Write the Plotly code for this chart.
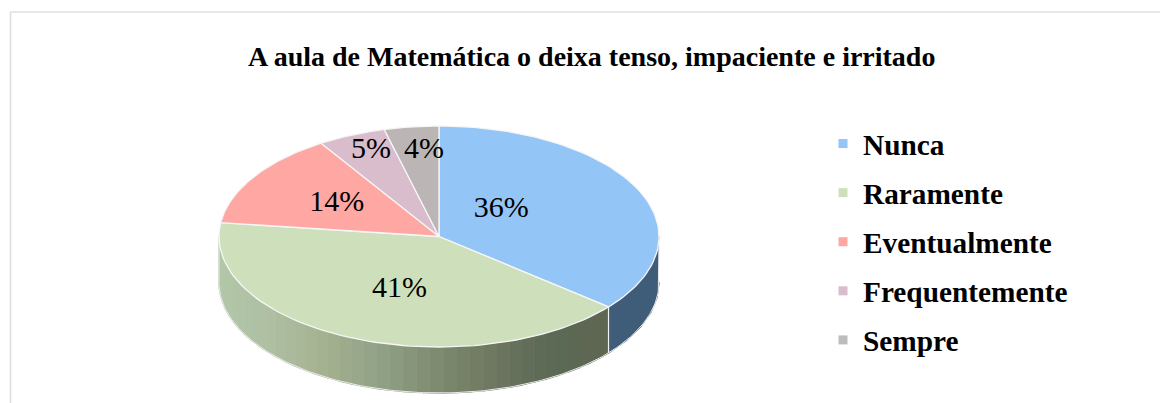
import numpy as np
import plotly.graph_objects as go

TITLE = "A aula de Matemática o deixa tenso, impaciente e irritado"
categories = ["Nunca", "Raramente", "Eventualmente", "Frequentemente", "Sempre"]
values = [36, 41, 14, 5, 4]
top_colors = ["#93C5F7", "#CEE0BB", "#FEA7A3", "#DABDCD", "#BBB6B5"]
legend_colors = ["#93C5F7", "#CEE0BB", "#FEA7A3", "#DABDCD", "#BDBDBD"]
label_x = [0.283, -0.180, -0.465, -0.309, -0.068]
label_y = [0.240, -0.484, 0.295, 0.774, 0.774]
wall_stop_x = [-1.0, -0.75, -0.5, -0.25, 0.0, 0.25, 0.5, 0.78]
wall_stop_rgb = [(179, 199, 169), (174, 191, 162), (164, 177, 143), (144, 160, 134),
                 (126, 139, 112), (110, 119, 96), (92, 106, 85), (96, 102, 82)]
blue_wall = "#3F5C78"
DEPTH = 0.416  # wall height in unit-ellipse terms
FONT = "Liberation Serif"

fractions = np.cumsum([0] + values) / sum(values)
angles = fractions * 2 * np.pi  # clockwise from 12 o'clock


def ex(t):
    return np.sin(t)


def ey(t):
    return np.cos(t)


def wall_color(xv):
    ch = [np.interp(xv, wall_stop_x, [c[i] for c in wall_stop_rgb]) for i in range(3)]
    return "rgb(%d,%d,%d)" % tuple(ch)


fig = go.Figure()


def wall_piece(a0, a1, color):
    t = np.linspace(a0, a1, 6)
    xs = np.concatenate([ex(t), ex(t[::-1])])
    ys = np.concatenate([ey(t), ey(t[::-1]) - DEPTH])
    fig.add_trace(go.Scatter(x=xs, y=ys, mode="lines", fill="toself", fillcolor=color,
                             line=dict(color=color, width=1.4), showlegend=False, hoverinfo="skip"))


# visible side wall: blue part, then green part cut into strips for the shading
wall_piece(np.pi / 2, angles[1], blue_wall)
edges = np.linspace(angles[1], 3 * np.pi / 2, 41)
for a0, a1 in zip(edges[:-1], edges[1:]):
    wall_piece(a0, a1, wall_color(float(ex((a0 + a1) / 2))))

# pale rim along the wall
t = np.linspace(np.pi / 2, 3 * np.pi / 2, 160)
fig.add_trace(go.Scatter(x=np.concatenate([[1], ex(t), [-1]]),
                         y=np.concatenate([[0], ey(t) - DEPTH, [0]]), mode="lines",
                         line=dict(color="#ECECEC", width=1), showlegend=False, hoverinfo="skip"))
# seam between blue and green walls
fig.add_trace(go.Scatter(x=[ex(angles[1])] * 2, y=[ey(angles[1]), ey(angles[1]) - DEPTH], mode="lines",
                         line=dict(color="#F2F2F2", width=1.2), showlegend=False, hoverinfo="skip"))

# top faces
for i, name in enumerate(categories):
    t = np.linspace(angles[i], angles[i + 1], 80)
    fig.add_trace(go.Scatter(x=np.concatenate([[0], ex(t), [0]]), y=np.concatenate([[0], ey(t), [0]]),
                             mode="lines", fill="toself", fillcolor=top_colors[i],
                             line=dict(color="#F6F6F6", width=1.3), showlegend=False,
                             name=name, hoverinfo="skip"))

# percentage labels
fig.add_trace(go.Scatter(x=label_x, y=label_y, mode="text", text=[f"{v}%" for v in values],
                         textposition="middle center",
                         textfont=dict(family=FONT, size=30, color="#000000"),
                         showlegend=False, hoverinfo="skip"))

# legend entries
for i, name in enumerate(categories):
    fig.add_trace(go.Scatter(x=[None], y=[None], mode="markers", name=name, legendgroup=name,
                             marker=dict(symbol="square", size=9, color=legend_colors[i])))

fig.update_layout(
    width=1160, height=403, autosize=False,
    margin=dict(l=0, r=0, t=0, b=0),
    paper_bgcolor="#FFFFFF", plot_bgcolor="rgba(0,0,0,0)",
    showlegend=True,
    xaxis=dict(domain=[0, 1], range=[(0 - 439) / 220, (1160 - 439) / 220], visible=False),
    yaxis=dict(domain=[0, 1], range=[(236.5 - 403) / 110.5, 236.5 / 110.5], visible=False),
    annotations=[dict(text=f"<b>{TITLE}</b>", xref="paper", yref="paper", x=591.5 / 1160, y=1 - 56.5 / 403,
                      xanchor="center", yanchor="middle", showarrow=False,
                      font=dict(family=FONT, size=28, color="#000000"))],
    legend=dict(x=823 / 1160, y=1 - 118 / 403, xanchor="left", yanchor="top", tracegroupgap=8,
                font=dict(family=FONT, size=29.3, color="#000000", weight="bold"),
                bgcolor="rgba(0,0,0,0)", borderwidth=0),
    shapes=[
        dict(type="line", xref="paper", yref="paper", x0=10.5 / 1160, x1=10.5 / 1160, y0=0, y1=1 - 12 / 403,
             line=dict(color="#E0E0E0", width=1.6)),
        dict(type="line", xref="paper", yref="paper", x0=10 / 1160, x1=1, y0=1 - 12 / 403, y1=1 - 12 / 403,
             line=dict(color="#E0E0E0", width=1.6)),
    ],
)
fig.write_html("out.html", config=dict(displayModeBar=False),
               post_script="document.body.style.margin='0';")
